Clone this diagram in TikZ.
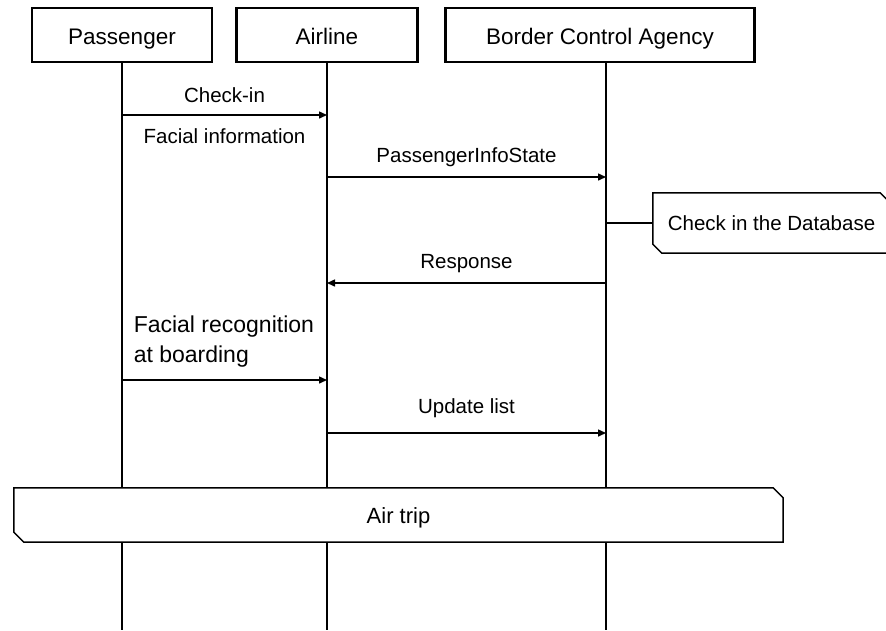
\documentclass[tikz,border=0pt]{standalone}
\usepackage{fontspec}
\setmainfont{Liberation Sans}
\usetikzlibrary{arrows.meta}

\begin{document}
\begin{tikzpicture}[x=1pt, y=-1pt,
    actor/.style={draw, line width=2.6pt, minimum height=54, inner sep=0, text height=18pt, text depth=0pt,
        font=\fontsize{22.5}{26}\selectfont},
    life/.style={line width=1.5pt},
    msg/.style={line width=1.5pt, -{Triangle[length=8pt, width=7pt]}},
    lbl/.style={inner sep=0, font=\fontsize{20.5}{24}\selectfont}]

    %% Boarding sequence

    \useasboundingbox (0,0) rectangle (886,630);
    \clip (0,0) rectangle (886,630);

    % Participants
    \node[actor, minimum width=180] (pass) at (122,35) {Passenger};
    \node[actor, minimum width=181] (air) at (327,35) {Airline};
    \node[actor, minimum width=309] (bca) at (600,35) {Border Control Agency};

    % Lifelines
    \coordinate (pass-end) at (122,630);
    \coordinate (air-end) at (327,630);
    \coordinate (bca-end) at (606,630);
    \draw[life] (pass.south) -- (pass-end);
    \draw[life] (air.south) -- (air-end);
    \draw[life] (bca-end |- bca.south) -- (bca-end);

    % Check-in
    \draw[msg] (pass-end |- 0,115) -- (air-end |- 0,115)
        node[lbl, midway, anchor=base, yshift=13pt] {Check-in}
        node[lbl, midway, anchor=base, yshift=-28pt] {Facial information};

    % Passenger data to the agency
    \draw[msg] (air-end |- 0,177) -- (bca-end |- 0,177)
        node[lbl, midway, anchor=base, yshift=15pt] {PassengerInfoState};

    % Database check
    \node[lbl, minimum width=237, minimum height=60] (db) at (771.5,223) {Check in the Database};
    \draw[line width=1.5pt] (db.north west) -- ([xshift=-10]db.north east) -- ([yshift=-10]db.north east)
        -- (db.south east) -- ([xshift=9]db.south west) -- ([yshift=9]db.south west) -- cycle;
    \draw[life] (bca-end |- db.west) -- (db.west);

    % Response
    \draw[msg] (bca-end |- 0,283) -- (air-end |- 0,283)
        node[lbl, midway, anchor=base, yshift=15pt] {Response};

    % Boarding
    \draw[msg] (pass-end |- 0,380) -- (air-end |- 0,380)
        node[lbl, pos=0, anchor=south west, xshift=11pt, yshift=12pt, align=left,
             font=\fontsize{23}{30}\selectfont] {Facial recognition\\at boarding};
    \draw[msg] (air-end |- 0,433) -- (bca-end |- 0,433)
        node[lbl, midway, anchor=base, yshift=20pt] {Update list};

    % Trip frame over all lifelines
    \node[lbl, minimum width=769, minimum height=54] (trip) at (398.5,515) {};
    \filldraw[fill=white, line width=1.5pt] (trip.north west) -- ([xshift=-10]trip.north east)
        -- ([yshift=-10]trip.north east) -- (trip.south east) -- ([xshift=10]trip.south west)
        -- ([yshift=10]trip.south west) -- cycle;
    \node[lbl, font=\fontsize{22}{26}\selectfont, anchor=base] at (trip.center |- 0,523) {Air trip};

\end{tikzpicture}
\end{document}
